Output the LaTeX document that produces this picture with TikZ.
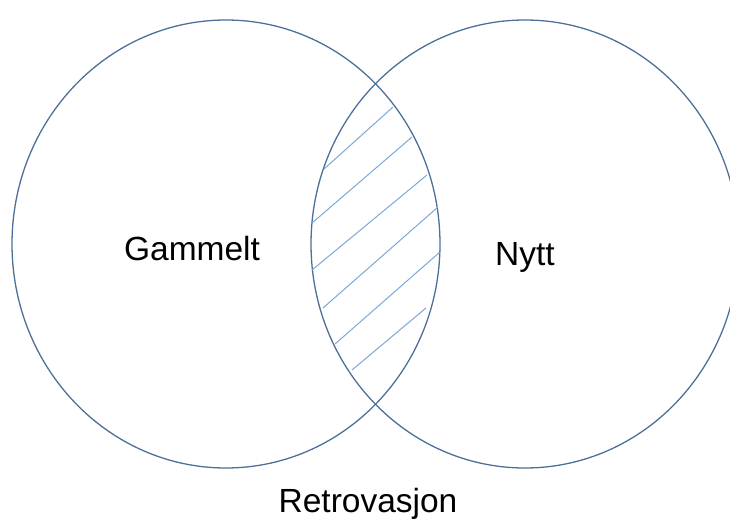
\documentclass[tikz,border=0pt]{standalone}
\usepackage{fontspec}
\setmainfont{Liberation Sans}
\definecolor{ringblue}{RGB}{76,112,152}
\definecolor{hatchblue}{RGB}{125,168,214}
\begin{document}
\begin{tikzpicture}[x=1pt,y=-1pt,
  ring/.style={draw=ringblue,line width=1.3pt},
  hatchline/.style={draw=hatchblue,line width=1pt},
  label/.style={anchor=base,inner sep=0pt,font=\fontsize{33.5}{40}\selectfont}]
\useasboundingbox (0,0) rectangle (730,519);
% the two sets
\draw[ring] (226,244) ellipse [x radius=214, y radius=224];
\draw[ring] (525,244) ellipse [x radius=214, y radius=224];
% hatching of the overlap
\draw[hatchline] (324,169) -- (393,107);
\draw[hatchline] (312,223) -- (412,137);
\draw[hatchline] (312,270) -- (427,175);
\draw[hatchline] (323,308) -- (438,207);
\draw[hatchline] (335,344) -- (440,252);
\draw[hatchline] (352,370) -- (426,308);
% labels
\node[label] (gammelt) at (192,260) {Gammelt};
\node[label] (nytt) at (525,265) {Nytt};
\node[label] (retro) at (368,512) {Retrovasjon};
\end{tikzpicture}
\end{document}
